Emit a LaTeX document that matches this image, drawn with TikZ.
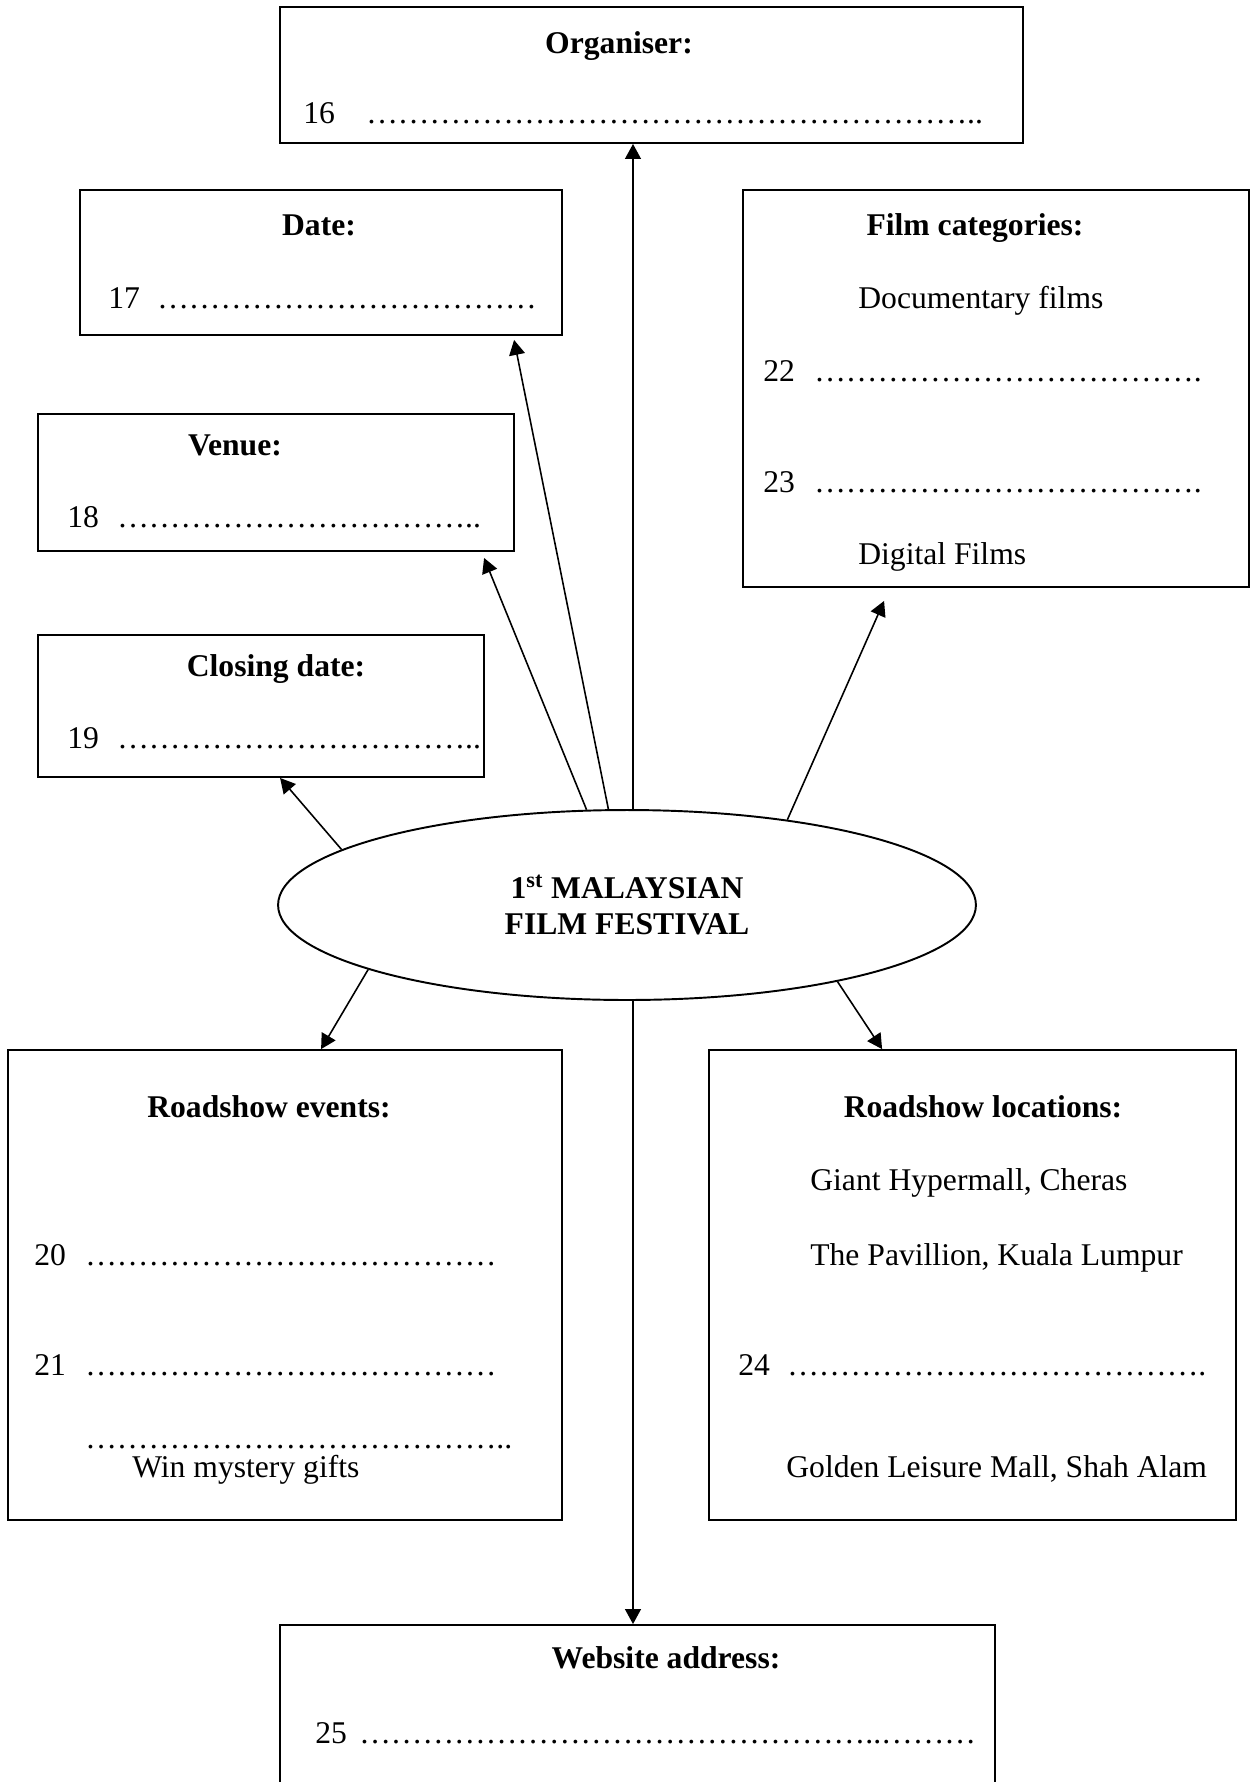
\documentclass[tikz,border=0pt]{standalone}
\usepackage{fontspec}
\setmainfont{Liberation Serif}
\usetikzlibrary{shapes.geometric,arrows.meta,calc}

\newcommand\dotrow[1]{\foreach\k in {1,...,#1}{…}}

\begin{document}
\begin{tikzpicture}[x=0.02cm,y=-0.02cm,
    box/.style={draw,rectangle,line width=1.1pt,inner sep=0},
    txt/.style={anchor=base west,inner sep=0,font=\fontsize{18}{20.5}\selectfont},
    ttl/.style={anchor=base,inner sep=0,font=\fontsize{18}{20.5}\selectfont\bfseries},
    arr/.style={line width=0.9pt,-{Triangle[length=8.5pt,width=9pt]}}]
    \useasboundingbox (0,0) rectangle (1252,1782);

    % boxes
    \node[box,minimum width=14.86cm,minimum height=2.72cm] (org_box) at (651.5,75) {};
    \node[box,minimum width=9.64cm,minimum height=2.90cm] (date_box) at (321,262.5) {};
    \node[box,minimum width=9.52cm,minimum height=2.74cm] (venue_box) at (276,482.5) {};
    \node[box,minimum width=8.92cm,minimum height=2.84cm] (close_box) at (261,706) {};
    \node[box,minimum width=10.12cm,minimum height=7.94cm] (film_box) at (996,388.5) {};
    \node[box,minimum width=11.08cm,minimum height=9.40cm] (event_box) at (285,1285) {};
    \node[box,minimum width=10.54cm,minimum height=9.40cm] (loc_box) at (972.5,1285) {};
    \node[box,minimum width=14.30cm,minimum height=4.00cm] (web_box) at (637.5,1725) {};

    \node[draw,ellipse,line width=1.1pt,inner sep=0,minimum width=13.96cm,minimum height=3.8cm,
          align=center,font=\fontsize{18}{20.5}\selectfont\bfseries] (fest) at (627,905)
          {1\textsuperscript{st} MALAYSIAN\\FILM FESTIVAL};

    % texts
    \node[ttl] (org_title) at (619,53) {Organiser:};
    \node[txt] (n16) at (303,123) {16};
    \node[txt] (d16) at (366,123) {\dotrow{19}..};

    \node[ttl] (date_title) at (319,235) {Date:};
    \node[txt] (n17) at (108,308) {17};
    \node[txt] (d17) at (157,308) {\dotrow{12}};

    \node[ttl] (venue_title) at (235,455) {Venue:};
    \node[txt] (n18) at (67,527) {18};
    \node[txt] (d18) at (117,527) {\dotrow{11}..};

    \node[ttl] (close_title) at (276,676) {Closing date:};
    \node[txt] (n19) at (67,748) {19};
    \node[txt] (d19) at (117,748) {\dotrow{11}..};

    \node[ttl] (film_title) at (975,235) {Film categories:};
    \node[txt] (docu) at (858,308) {Documentary films};
    \node[txt] (n22) at (763,381) {22};
    \node[txt] (d22) at (814,381) {\dotrow{12}.};
    \node[txt] (n23) at (763,492) {23};
    \node[txt] (d23) at (814,492) {\dotrow{12}.};
    \node[txt] (digi) at (858,564) {Digital Films};

    \node[ttl] (event_title) at (269,1117) {Roadshow events:};
    \node[txt] (n20) at (34,1265) {20};
    \node[txt] (d20) at (85,1265) {\dotrow{13}};
    \node[txt] (n21) at (34,1375) {21};
    \node[txt] (d21) at (85,1375) {\dotrow{13}};
    \node[txt] (d_gift) at (85,1448) {\dotrow{13}..};
    \node[txt] (gift) at (132,1477) {Win mystery gifts};

    \node[ttl] (loc_title) at (983,1117) {Roadshow locations:};
    \node[txt] (giant) at (810,1190) {Giant Hypermall, Cheras};
    \node[txt] (pav) at (810,1265) {The Pavillion, Kuala Lumpur};
    \node[txt] (n24) at (738,1375) {24};
    \node[txt] (d24) at (787,1375) {\dotrow{13}.};
    \node[txt] (golden) at (786,1477) {Golden Leisure Mall, Shah Alam};

    \node[ttl] (web_title) at (666,1668) {Website address:};
    \node[txt] (n25) at (315,1743) {25};
    \node[txt] (d25) at (359,1743) {\dotrow{16}..\dotrow{3}};

    % connectors
    \coordinate (up_pt) at ($(fest.north)+(6,0)$);
    \coordinate (down_pt) at ($(fest.south)+(6,0)$);
    \draw[arr] (up_pt) -- (up_pt |- org_box.south);
    \draw[arr] (down_pt) -- (down_pt |- web_box.north);
    \draw[arr] (fest.101) -- ($(date_box.south west)+(435,4)$);
    \draw[arr] (fest.113) -- ($(venue_box.south west)+(447,6)$);
    \draw[arr] (fest.169) -- ($(close_box.south west)+(243,0)$);
    \draw[arr] (fest.28) -- ($(film_box.south west)+(142,13)$);
    \draw[arr] (fest.194) -- ($(event_box.north west)+(314,0)$);
    \draw[arr] (fest.340) -- ($(loc_box.north west)+(174,0)$);
\end{tikzpicture}
\end{document}
